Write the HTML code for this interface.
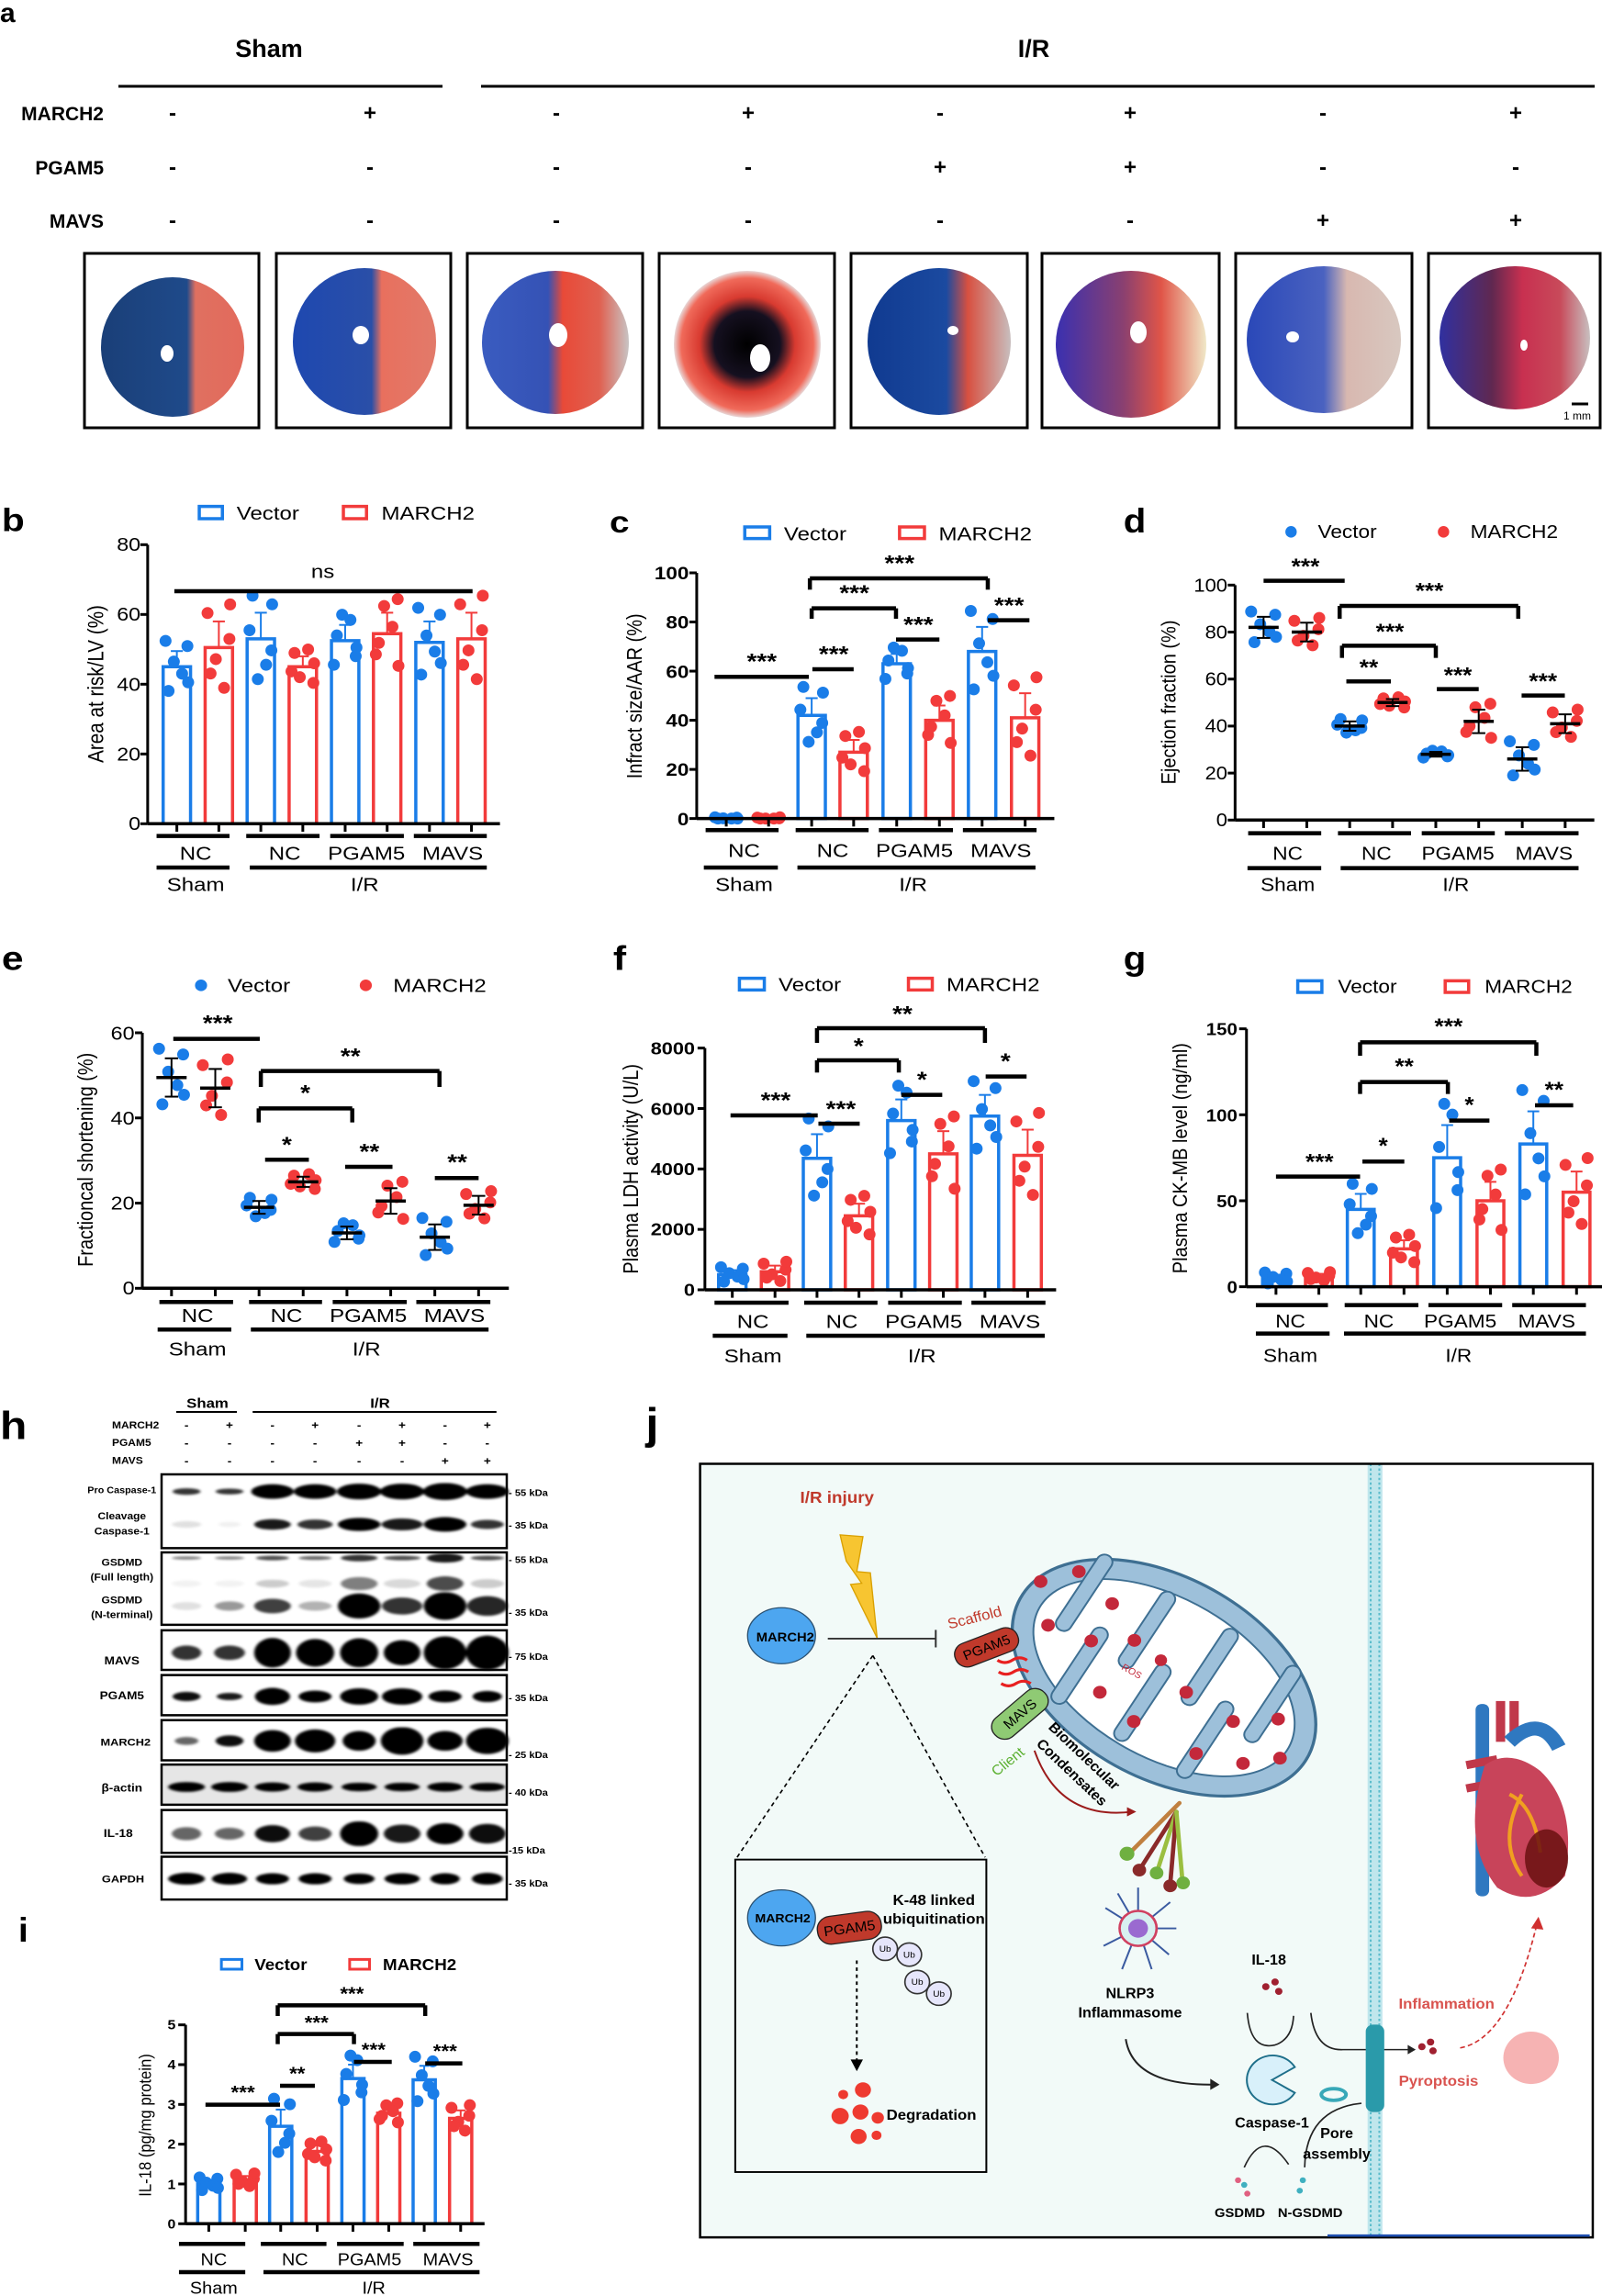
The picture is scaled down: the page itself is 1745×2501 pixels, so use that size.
<!DOCTYPE html>
<html><head><meta charset="utf-8">
<style>
html,body{margin:0;padding:0;background:#fff;}
svg{display:block;font-family:"Liberation Sans",Arial,sans-serif;}
.b{font-weight:bold;}
.st{font-size:72px;font-weight:bold;}
</style></head>
<body>
<svg id="S" xmlns="http://www.w3.org/2000/svg" width="1745" height="2501" viewBox="0 0 1745 2501">
<defs>
<linearGradient id="h1" x1="0" x2="1"><stop offset="0" stop-color="#1a3f78"/><stop offset="0.6" stop-color="#1f4a8a"/><stop offset="0.66" stop-color="#e07060"/><stop offset="1" stop-color="#e26a5c"/></linearGradient>
<linearGradient id="h2" x1="0" x2="1"><stop offset="0" stop-color="#1e48b0"/><stop offset="0.55" stop-color="#2a4fa8"/><stop offset="0.62" stop-color="#e8705e"/><stop offset="1" stop-color="#e27a6a"/></linearGradient>
<linearGradient id="h3" x1="0" x2="1"><stop offset="0" stop-color="#3a5cc0"/><stop offset="0.45" stop-color="#3552b5"/><stop offset="0.55" stop-color="#e84a38"/><stop offset="0.8" stop-color="#e06050"/><stop offset="1" stop-color="#c8c4c4"/></linearGradient>
<radialGradient id="h4"><stop offset="0" stop-color="#000"/><stop offset="0.45" stop-color="#151020"/><stop offset="0.65" stop-color="#d83a30"/><stop offset="0.9" stop-color="#f06a5a"/><stop offset="1" stop-color="#e8d8d8"/></radialGradient>
<linearGradient id="h5" x1="0" x2="1"><stop offset="0" stop-color="#103a90"/><stop offset="0.55" stop-color="#1b4aa0"/><stop offset="0.7" stop-color="#d85040"/><stop offset="1" stop-color="#c8bebe"/></linearGradient>
<linearGradient id="h6" x1="0" x2="1"><stop offset="0" stop-color="#3a30b0"/><stop offset="0.45" stop-color="#8a4070"/><stop offset="0.7" stop-color="#e05548"/><stop offset="1" stop-color="#f0e8c8"/></linearGradient>
<linearGradient id="h7" x1="0" x2="1"><stop offset="0" stop-color="#2a48b8"/><stop offset="0.5" stop-color="#4a62c0"/><stop offset="0.65" stop-color="#d8b8b0"/><stop offset="1" stop-color="#d8c8c0"/></linearGradient>
<linearGradient id="h8" x1="0" x2="1"><stop offset="0" stop-color="#3030a0"/><stop offset="0.35" stop-color="#602850"/><stop offset="0.55" stop-color="#c83050"/><stop offset="0.8" stop-color="#c84a5a"/><stop offset="1" stop-color="#c8c0c0"/></linearGradient>
<filter id="bl" x="-20%" y="-50%" width="140%" height="200%"><feGaussianBlur stdDeviation="4"/></filter>
</defs>

<!-- ===== Panel a ===== -->
<text x="0" y="24" font-size="30" class="b">a</text>
<text x="293" y="62" font-size="27" class="b" text-anchor="middle">Sham</text>
<text x="1126" y="62" font-size="27" class="b" text-anchor="middle">I/R</text>
<line x1="129" y1="94" x2="482" y2="94" stroke="#000" stroke-width="3"/>
<line x1="524" y1="94" x2="1737" y2="94" stroke="#000" stroke-width="3"/>
<g font-size="21" class="b" text-anchor="end">
<text x="113" y="131">MARCH2</text><text x="113" y="190">PGAM5</text><text x="113" y="248">MAVS</text>
</g>
<g font-size="24" class="b" text-anchor="middle">
<text x="188" y="131">-</text><text x="403" y="131">+</text><text x="606" y="131">-</text><text x="815" y="131">+</text><text x="1024" y="131">-</text><text x="1231" y="131">+</text><text x="1441" y="131">-</text><text x="1651" y="131">+</text>
<text x="188" y="190">-</text><text x="403" y="190">-</text><text x="606" y="190">-</text><text x="815" y="190">-</text><text x="1024" y="190">+</text><text x="1231" y="190">+</text><text x="1441" y="190">-</text><text x="1651" y="190">-</text>
<text x="188" y="248">-</text><text x="403" y="248">-</text><text x="606" y="248">-</text><text x="815" y="248">-</text><text x="1024" y="248">-</text><text x="1231" y="248">-</text><text x="1441" y="248">+</text><text x="1651" y="248">+</text>
</g>
<g stroke="#000" stroke-width="3" fill="#fff">
<rect x="92" y="276" width="190" height="190"/><rect x="301" y="276" width="190" height="190"/><rect x="509" y="276" width="191" height="190"/><rect x="718" y="276" width="191" height="190"/><rect x="927" y="276" width="192" height="190"/><rect x="1135" y="276" width="193" height="190"/><rect x="1346" y="276" width="192" height="190"/><rect x="1556" y="276" width="187" height="190"/>
</g>
<ellipse cx="188" cy="378" rx="78" ry="76" fill="url(#h1)"/>
<ellipse cx="397" cy="372" rx="78" ry="80" fill="url(#h2)"/>
<ellipse cx="605" cy="373" rx="80" ry="78" fill="url(#h3)"/>
<ellipse cx="814" cy="375" rx="80" ry="80" fill="url(#h4)"/>
<ellipse cx="1023" cy="372" rx="78" ry="80" fill="url(#h5)"/>
<ellipse cx="1232" cy="375" rx="82" ry="80" fill="url(#h6)"/>
<ellipse cx="1442" cy="370" rx="84" ry="80" fill="url(#h7)"/>
<ellipse cx="1650" cy="368" rx="82" ry="78" fill="url(#h8)"/>
<g fill="#fff"><ellipse cx="182" cy="385" rx="7" ry="9"/><ellipse cx="393" cy="365" rx="9" ry="10"/><ellipse cx="608" cy="365" rx="10" ry="13"/><ellipse cx="828" cy="390" rx="11" ry="15"/><ellipse cx="1038" cy="360" rx="6" ry="5"/><ellipse cx="1240" cy="362" rx="9" ry="12"/><ellipse cx="1408" cy="367" rx="7" ry="6"/><ellipse cx="1660" cy="376" rx="4" ry="6"/></g>
<line x1="1712" y1="440" x2="1730" y2="440" stroke="#000" stroke-width="3"/>
<text x="1718" y="457" font-size="12" text-anchor="middle">1 mm</text>

<!-- ===== Panel b ===== -->
<g id="pb" transform="translate(0,500) scale(0.3876,0.3333)">
<text x="5" y="235" font-size="105" class="b">b</text>
<rect x="560" y="155" width="65" height="40" fill="none" stroke="#1a7de8" stroke-width="3.5" vector-effect="non-scaling-stroke"/>
<text x="665" y="198" font-size="62">Vector</text>
<rect x="965" y="155" width="65" height="40" fill="none" stroke="#f23b3b" stroke-width="3.5" vector-effect="non-scaling-stroke"/>
<text x="1072" y="198" font-size="62">MARCH2</text>
<g font-size="60" text-anchor="end"><text x="395" y="300">80</text><text x="395" y="528">60</text><text x="395" y="757">40</text><text x="395" y="985">20</text><text x="395" y="1212">0</text></g>
<text transform="translate(290,735) rotate(-90)" font-size="62" text-anchor="middle">Area at risk/LV (%)</text>
<text x="907" y="388" font-size="62" text-anchor="middle">ns</text>
<g font-size="62" text-anchor="middle"><text x="550" y="1310">NC</text><text x="800" y="1310">NC</text><text x="1030" y="1310">PGAM5</text><text x="1272" y="1310">MAVS</text><text x="550" y="1412">Sham</text><text x="1025" y="1412">I/R</text></g>
</g>

<!-- ===== Panel c ===== -->
<g id="pc" transform="translate(600,520) scale(0.3876,0.3333)">
<text x="165" y="180" font-size="100" class="b">c</text>
<rect x="545" y="162" width="70" height="38" fill="none" stroke="#1a7de8" stroke-width="3.5" vector-effect="non-scaling-stroke"/>
<text x="655" y="205" font-size="62">Vector</text>
<rect x="980" y="162" width="70" height="38" fill="none" stroke="#f23b3b" stroke-width="3.5" vector-effect="non-scaling-stroke"/>
<text x="1090" y="205" font-size="62">MARCH2</text>
<g font-size="58" class="b" text-anchor="end"><text x="388" y="333">100</text><text x="388" y="493">80</text><text x="388" y="655">60</text><text x="388" y="815">40</text><text x="388" y="975">20</text><text x="388" y="1137">0</text></g>
<text transform="translate(255,715) rotate(-90)" font-size="60" text-anchor="middle">Infract size/AAR (%)</text>
<g class="st" text-anchor="middle"><text x="593" y="625">***</text><text x="795" y="602">***</text><text x="853" y="402">***</text><text x="1033" y="505">***</text><text x="1288" y="442">***</text><text x="980" y="305">***</text></g>
<g font-size="62" text-anchor="middle"><text x="543" y="1240">NC</text><text x="792" y="1240">NC</text><text x="1022" y="1240">PGAM5</text><text x="1265" y="1240">MAVS</text><text x="543" y="1352">Sham</text><text x="1018" y="1352">I/R</text></g>
</g>

<!-- ===== Panel d ===== -->
<g id="pd" transform="translate(1180,520) scale(0.365,0.3333)">
<text x="120" y="180" font-size="110" class="b">d</text>
<ellipse cx="620" cy="178" rx="17" ry="19" fill="#1a7de8"/>
<text x="700" y="198" font-size="62">Vector</text>
<ellipse cx="1075" cy="178" rx="17" ry="19" fill="#f23b3b"/>
<text x="1155" y="198" font-size="62">MARCH2</text>
<g font-size="60" text-anchor="end"><text x="430" y="373">100</text><text x="430" y="527">80</text><text x="430" y="680">60</text><text x="430" y="833">40</text><text x="430" y="987">20</text><text x="430" y="1140">0</text></g>
<text transform="translate(275,735) rotate(-90)" font-size="60" text-anchor="middle">Ejection fraction (%)</text>
<g class="st" text-anchor="middle"><text x="663" y="315">***</text><text x="1033" y="395">***</text><text x="915" y="528">***</text><text x="852" y="645">**</text><text x="1118" y="670">***</text><text x="1372" y="690">***</text></g>
<g font-size="62" text-anchor="middle"><text x="610" y="1250">NC</text><text x="875" y="1250">NC</text><text x="1118" y="1250">PGAM5</text><text x="1375" y="1250">MAVS</text><text x="610" y="1352">Sham</text><text x="1112" y="1352">I/R</text></g>
</g>

<!-- ===== Panel e ===== -->
<g id="pe" transform="translate(0,1020) scale(0.3876,0.3333)">
<text x="5" y="110" font-size="110" class="b">e</text>
<ellipse cx="565" cy="160" rx="17" ry="19" fill="#1a7de8"/>
<text x="640" y="182" font-size="62">Vector</text>
<ellipse cx="1028" cy="160" rx="17" ry="19" fill="#f23b3b"/>
<text x="1105" y="182" font-size="62">MARCH2</text>
<g font-size="60" text-anchor="end"><text x="378" y="337">60</text><text x="378" y="615">40</text><text x="378" y="892">20</text><text x="378" y="1170">0</text></g>
<text transform="translate(260,730) rotate(-90)" font-size="60" text-anchor="middle">Fractioncal shortening (%)</text>
<g class="st" text-anchor="middle"><text x="612" y="308">***</text><text x="985" y="415">**</text><text x="858" y="535">*</text><text x="806" y="705">*</text><text x="1038" y="728">**</text><text x="1285" y="762">**</text></g>
<g font-size="62" text-anchor="middle"><text x="555" y="1260">NC</text><text x="805" y="1260">NC</text><text x="1035" y="1260">PGAM5</text><text x="1277" y="1260">MAVS</text><text x="555" y="1370">Sham</text><text x="1030" y="1370">I/R</text></g>
</g>

<!-- ===== Panel f ===== -->
<g id="pf" transform="translate(600,1020) scale(0.3876,0.3333)">
<text x="175" y="110" font-size="110" class="b">f</text>
<rect x="530" y="137" width="70" height="38" fill="none" stroke="#1a7de8" stroke-width="3.5" vector-effect="non-scaling-stroke"/>
<text x="640" y="178" font-size="62">Vector</text>
<rect x="1005" y="137" width="67" height="38" fill="none" stroke="#f23b3b" stroke-width="3.5" vector-effect="non-scaling-stroke"/>
<text x="1112" y="178" font-size="62">MARCH2</text>
<g font-size="56" class="b" text-anchor="end"><text x="405" y="385">8000</text><text x="405" y="583">6000</text><text x="405" y="780">4000</text><text x="405" y="977">2000</text><text x="405" y="1175">0</text></g>
<text transform="translate(245,760) rotate(-90)" font-size="60" text-anchor="middle">Plasma LDH activity (U/L)</text>
<g class="st" text-anchor="middle"><text x="632" y="560">***</text><text x="815" y="588">***</text><text x="865" y="382">*</text><text x="988" y="278">**</text><text x="1043" y="492">*</text><text x="1278" y="432">*</text></g>
<g font-size="62" text-anchor="middle"><text x="568" y="1280">NC</text><text x="818" y="1280">NC</text><text x="1048" y="1280">PGAM5</text><text x="1290" y="1280">MAVS</text><text x="568" y="1392">Sham</text><text x="1043" y="1392">I/R</text></g>
</g>

<!-- ===== Panel g ===== -->
<g id="pg" transform="translate(1180,1020) scale(0.365,0.3333)">
<text x="120" y="110" font-size="110" class="b">g</text>
<rect x="640" y="145" width="72" height="38" fill="none" stroke="#1a7de8" stroke-width="3.5" vector-effect="non-scaling-stroke"/>
<text x="760" y="185" font-size="62">Vector</text>
<rect x="1080" y="145" width="70" height="38" fill="none" stroke="#f23b3b" stroke-width="3.5" vector-effect="non-scaling-stroke"/>
<text x="1198" y="185" font-size="62">MARCH2</text>
<g font-size="56" class="b" text-anchor="end"><text x="460" y="322">150</text><text x="460" y="605">100</text><text x="460" y="885">50</text><text x="460" y="1165">0</text></g>
<text transform="translate(310,725) rotate(-90)" font-size="60" text-anchor="middle">Plasma CK-MB level (ng/ml)</text>
<g class="st" text-anchor="middle"><text x="705" y="760">***</text><text x="895" y="708">*</text><text x="958" y="448">**</text><text x="1090" y="318">***</text><text x="1152" y="575">*</text><text x="1405" y="525">**</text></g>
<g font-size="62" text-anchor="middle"><text x="618" y="1278">NC</text><text x="882" y="1278">NC</text><text x="1125" y="1278">PGAM5</text><text x="1383" y="1278">MAVS</text><text x="618" y="1390">Sham</text><text x="1120" y="1390">I/R</text></g>
</g>

<!-- ===== Panel i ===== -->
<g id="pi" transform="translate(0,2070) scale(0.361,0.3333)">
<text x="55" y="135" font-size="110" class="b">i</text>
<rect x="668" y="193" width="62" height="32" fill="none" stroke="#1a7de8" stroke-width="3" vector-effect="non-scaling-stroke"/>
<text x="768" y="228" font-size="52" class="b">Vector</text>
<rect x="1055" y="193" width="60" height="32" fill="none" stroke="#f23b3b" stroke-width="3" vector-effect="non-scaling-stroke"/>
<text x="1155" y="228" font-size="52" class="b">MARCH2</text>
<g font-size="44" class="b" text-anchor="end"><text x="530" y="422">5</text><text x="530" y="552">4</text><text x="530" y="682">3</text><text x="530" y="812">2</text><text x="530" y="943">1</text><text x="530" y="1073">0</text></g>
<text transform="translate(455,735) rotate(-90)" font-size="50" text-anchor="middle">IL-18 (pg/mg protein)</text>
<g font-size="62" class="b" text-anchor="middle"><text x="733" y="648">***</text><text x="897" y="586">**</text><text x="955" y="420">***</text><text x="1062" y="326">***</text><text x="1127" y="508">***</text><text x="1343" y="513">***</text></g>
<g font-size="55" text-anchor="middle"><text x="645" y="1192">NC</text><text x="890" y="1192">NC</text><text x="1115" y="1192">PGAM5</text><text x="1352" y="1192">MAVS</text><text x="645" y="1285">Sham</text><text x="1128" y="1285">I/R</text></g>
</g>

<!-- ===== Panel h ===== -->
<g id="ph" transform="translate(0,1510) scale(0.4,0.3584)">
<text x="0" y="160" font-size="120" class="b">h</text>
<text x="565" y="66" font-size="42" class="b" text-anchor="middle">Sham</text>
<text x="1035" y="66" font-size="42" class="b" text-anchor="middle">I/R</text>
<line x1="480" y1="78" x2="645" y2="78" stroke="#000" stroke-width="2" vector-effect="non-scaling-stroke"/>
<line x1="688" y1="78" x2="1352" y2="78" stroke="#000" stroke-width="2" vector-effect="non-scaling-stroke"/>
<g font-size="30" class="b"><text x="305" y="128">MARCH2</text><text x="305" y="182">PGAM5</text><text x="305" y="236">MAVS</text></g>
<g font-size="34" class="b" text-anchor="middle">
<text x="508" y="130">-</text><text x="625" y="130">+</text><text x="742" y="130">-</text><text x="858" y="130">+</text><text x="978" y="130">-</text><text x="1095" y="130">+</text><text x="1212" y="130">-</text><text x="1327" y="130">+</text>
<text x="508" y="184">-</text><text x="625" y="184">-</text><text x="742" y="184">-</text><text x="858" y="184">-</text><text x="978" y="184">+</text><text x="1095" y="184">+</text><text x="1212" y="184">-</text><text x="1327" y="184">-</text>
<text x="508" y="238">-</text><text x="625" y="238">-</text><text x="742" y="238">-</text><text x="858" y="238">-</text><text x="978" y="238">-</text><text x="1095" y="238">-</text><text x="1212" y="238">+</text><text x="1327" y="238">+</text>
</g>
<rect x="440" y="1150" width="940" height="122" fill="#e6e6e6"/>
<g id="bands" filter="url(#bl)"></g>
<g fill="none" stroke="#000" stroke-width="2.5">
<rect x="440" y="268" width="940" height="224" vector-effect="non-scaling-stroke"/><rect x="440" y="505" width="940" height="220" vector-effect="non-scaling-stroke"/><rect x="440" y="742" width="940" height="120" vector-effect="non-scaling-stroke"/><rect x="440" y="878" width="940" height="122" vector-effect="non-scaling-stroke"/><rect x="440" y="1015" width="940" height="122" vector-effect="non-scaling-stroke"/><rect x="440" y="1150" width="940" height="122" vector-effect="non-scaling-stroke"/><rect x="440" y="1288" width="940" height="130" vector-effect="non-scaling-stroke"/><rect x="440" y="1430" width="940" height="130" vector-effect="non-scaling-stroke"/>
</g>
<g font-size="30" class="b" text-anchor="middle">
<text x="332" y="325" font-size="27">Pro Caspase-1</text><text x="332" y="405">Cleavage</text><text x="332" y="450">Caspase-1</text>
<text x="332" y="545">GSDMD</text><text x="332" y="590">(Full length)</text><text x="332" y="660">GSDMD</text><text x="332" y="705">(N-terminal)</text>
<text x="332" y="845" font-size="34">MAVS</text><text x="332" y="952" font-size="34">PGAM5</text><text x="342" y="1093" font-size="32">MARCH2</text><text x="332" y="1232" font-size="34">β-actin</text><text x="322" y="1370" font-size="34">IL-18</text><text x="335" y="1508" font-size="32">GAPDH</text>
</g>
<g font-size="28" class="b">
<text x="1385" y="333">- 55 kDa</text><text x="1385" y="433">- 35 kDa</text><text x="1385" y="537">- 55 kDa</text><text x="1385" y="697">- 35 kDa</text><text x="1385" y="832">- 75 kDa</text><text x="1385" y="957">- 35 kDa</text><text x="1385" y="1130">- 25 kDa</text><text x="1385" y="1245">- 40 kDa</text><text x="1385" y="1420">-15 kDa</text><text x="1385" y="1520">- 35 kDa</text>
</g>
</g>

<!-- ===== Panel j ===== -->
<g id="pj" transform="translate(690,1510) scale(0.672,0.635)">
<text x="20" y="90" font-size="75" class="b">j</text>
<rect x="108" y="133" width="1447" height="1327" fill="#f2faf8"/>
<rect x="1212" y="133" width="343" height="1327" fill="#fff"/>
<rect x="1190" y="133" width="24" height="1327" fill="#bfe6ec"/>
<line x1="1195" y1="133" x2="1195" y2="1460" stroke="#5bbccc" stroke-width="3" stroke-dasharray="4 4"/>
<line x1="1209" y1="133" x2="1209" y2="1460" stroke="#5bbccc" stroke-width="3" stroke-dasharray="4 4"/>
<rect x="108" y="133" width="1447" height="1327" fill="none" stroke="#000" stroke-width="2.5" vector-effect="non-scaling-stroke"/>
<line x1="1125" y1="1457" x2="1550" y2="1457" stroke="#1f4fb0" stroke-width="4"/>
<text x="330" y="200" font-size="28" fill="#c0392b" text-anchor="middle" class="b">I/R injury</text>
<polygon points="335,255 372,258 362,318 384,320 395,432 352,340 370,338 345,300" fill="#f7c531" stroke="#d9a000" stroke-width="2"/>
<ellipse cx="240" cy="428" rx="55" ry="48" fill="#4da6f0" stroke="#2a5070" stroke-width="2"/>
<text x="246" y="438" font-size="22" class="b" text-anchor="middle">MARCH2</text>
<line x1="315" y1="433" x2="490" y2="433" stroke="#333" stroke-width="3"/>
<line x1="490" y1="418" x2="490" y2="448" stroke="#333" stroke-width="3"/>
<line x1="388" y1="462" x2="168" y2="808" stroke="#000" stroke-width="2.5" stroke-dasharray="7 6"/>
<line x1="388" y1="462" x2="570" y2="808" stroke="#000" stroke-width="2.5" stroke-dasharray="7 6"/>
<rect x="165" y="812" width="407" height="536" fill="none" stroke="#000" stroke-width="3"/>
<ellipse cx="240" cy="912" rx="55" ry="48" fill="#4da6f0" stroke="#2a5070" stroke-width="2"/>
<text x="242" y="920" font-size="21" class="b" text-anchor="middle">MARCH2</text>
<rect x="298" y="905" width="104" height="48" rx="22" fill="#c0392b" stroke="#222" stroke-width="2" transform="rotate(-8 350 929)"/>
<text x="350" y="938" font-size="24" text-anchor="middle" transform="rotate(-8 350 929)">PGAM5</text>
<text x="487" y="890" font-size="25" class="b" text-anchor="middle">K-48 linked</text>
<text x="487" y="922" font-size="25" class="b" text-anchor="middle">ubiquitination</text>
<g fill="#e6e6fb" stroke="#333" stroke-width="2.5"><circle cx="408" cy="965" r="20"/><circle cx="447" cy="975" r="20"/><circle cx="460" cy="1022" r="20"/><circle cx="495" cy="1042" r="20"/></g>
<g font-size="15" text-anchor="middle"><text x="408" y="970">Ub</text><text x="447" y="980">Ub</text><text x="460" y="1027">Ub</text><text x="495" y="1047">Ub</text></g>
<line x1="362" y1="985" x2="362" y2="1160" stroke="#000" stroke-width="3" stroke-dasharray="6 6"/>
<polygon points="352,1155 372,1155 362,1175" fill="#000"/>
<g fill="#ee3a30"><circle cx="372" cy="1207" r="13"/><circle cx="340" cy="1215" r="8"/><circle cx="335" cy="1252" r="14"/><circle cx="368" cy="1245" r="13"/><circle cx="396" cy="1255" r="10"/><circle cx="365" cy="1287" r="13"/><circle cx="394" cy="1285" r="8"/></g>
<text x="483" y="1258" font-size="25" class="b" text-anchor="middle">Degradation</text>
<g transform="rotate(32 860 500)">
<ellipse cx="860" cy="500" rx="270" ry="170" fill="#9dc0da" stroke="#3e6f92" stroke-width="5"/>
<ellipse cx="860" cy="500" rx="235" ry="135" fill="#fff" stroke="#3e6f92" stroke-width="3"/>
<g fill="#9dc0da" stroke="#3e6f92" stroke-width="3">
<rect x="660" y="370" width="26" height="150" rx="13"/><rect x="720" y="480" width="26" height="150" rx="13"/><rect x="780" y="370" width="26" height="150" rx="13"/><rect x="840" y="480" width="26" height="150" rx="13"/><rect x="900" y="370" width="26" height="150" rx="13"/><rect x="960" y="480" width="26" height="150" rx="13"/><rect x="1020" y="370" width="26" height="150" rx="13"/>
</g></g>
<g fill="#c3283a"><circle cx="660" cy="335" r="11"/><circle cx="722" cy="318" r="11"/><circle cx="776" cy="373" r="11"/><circle cx="672" cy="410" r="11"/><circle cx="742" cy="437" r="11"/><circle cx="812" cy="436" r="11"/><circle cx="855" cy="470" r="10"/><circle cx="756" cy="525" r="11"/><circle cx="896" cy="525" r="11"/><circle cx="811" cy="575" r="11"/><circle cx="972" cy="575" r="11"/><circle cx="1045" cy="571" r="11"/><circle cx="912" cy="630" r="11"/><circle cx="988" cy="647" r="11"/><circle cx="1048" cy="638" r="11"/></g>
<text x="790" y="485" font-size="16" fill="#c3283a" transform="rotate(30 790 485)">ROS</text>
<text x="555" y="405" font-size="25" fill="#c0392b" transform="rotate(-15 555 405)" text-anchor="middle">Scaffold</text>
<g transform="rotate(-22 572 447)"><rect x="518" y="427" width="108" height="42" rx="20" fill="#c0392b" stroke="#222" stroke-width="2"/><text x="572" y="456" font-size="23" text-anchor="middle">PGAM5</text></g>
<path d="M590,470 q12,8 24,0 t24,0 M592,490 q12,8 24,0 t24,0 M596,510 q12,8 24,0 t24,0" fill="none" stroke="#e82020" stroke-width="5"/>
<g transform="rotate(-42 625 562)"><rect x="572" y="542" width="108" height="42" rx="20" fill="#8fca74" stroke="#222" stroke-width="2"/><text x="626" y="571" font-size="23" text-anchor="middle">MAVS</text></g>
<text x="612" y="650" font-size="24" fill="#5bb030" transform="rotate(-40 612 650)" text-anchor="middle">Client</text>
<text x="725" y="640" font-size="24" class="b" transform="rotate(45 725 640)" text-anchor="middle">Biomolecular</text>
<text x="705" y="668" font-size="24" class="b" transform="rotate(45 705 668)" text-anchor="middle">Condensates</text>
<path d="M650,625 Q690,745 808,730" fill="none" stroke="#9b1b1b" stroke-width="3"/>
<polygon points="800,722 815,730 800,738" fill="#9b1b1b"/>
<g stroke-width="7" stroke-linecap="round"><line x1="885" y1="715" x2="805" y2="800" stroke="#c08040"/><line x1="880" y1="730" x2="820" y2="830" stroke="#8a2a2a"/><line x1="880" y1="730" x2="848" y2="835" stroke="#9bbf40"/><line x1="880" y1="730" x2="870" y2="855" stroke="#8a2a2a"/><line x1="880" y1="730" x2="890" y2="850" stroke="#9bbf40"/></g>
<g fill="#6fb040"><circle cx="800" cy="802" r="12"/><circle cx="848" cy="835" r="11"/><circle cx="891" cy="852" r="11"/></g><g fill="#8a2a2a"><circle cx="820" cy="830" r="11"/><circle cx="870" cy="857" r="11"/></g>
<g stroke="#3a5aa0" stroke-width="3"><line x1="818" y1="930" x2="818" y2="860"/><line x1="818" y1="930" x2="870" y2="885"/><line x1="818" y1="930" x2="880" y2="930"/><line x1="818" y1="930" x2="868" y2="975"/><line x1="818" y1="930" x2="840" y2="1000"/><line x1="818" y1="930" x2="792" y2="1000"/><line x1="818" y1="930" x2="762" y2="960"/><line x1="818" y1="930" x2="765" y2="895"/><line x1="818" y1="930" x2="785" y2="870"/></g>
<circle cx="818" cy="930" r="30" fill="#d8f0f0" stroke="#d04060" stroke-width="4"/><circle cx="818" cy="930" r="16" fill="#9a6ad0"/>
<text x="805" y="1050" font-size="24" class="b" text-anchor="middle">NLRP3</text>
<text x="805" y="1083" font-size="24" class="b" text-anchor="middle">Inflammasome</text>
<path d="M798,1120 Q810,1200 940,1198" fill="none" stroke="#222" stroke-width="3"/><polygon points="935,1188 950,1198 935,1207" fill="#222"/>
<text x="1030" y="992" font-size="24" class="b" text-anchor="middle">IL-18</text>
<g fill="#a02030"><circle cx="1025" cy="1030" r="6"/><circle cx="1040" cy="1022" r="6"/><circle cx="1046" cy="1038" r="6"/></g>
<path d="M995,1075 Q1000,1140 1040,1130 Q1068,1120 1070,1080" fill="none" stroke="#222" stroke-width="2.5"/>
<path d="M1098,1075 Q1105,1140 1150,1138 L1260,1138" fill="none" stroke="#222" stroke-width="2.5"/><polygon points="1255,1130 1268,1138 1255,1146" fill="#222"/>
<path d="M1035,1190 L1072,1168 A42,42 0 1,0 1072,1212 Z" fill="#d8f0fa" stroke="#1e6f8a" stroke-width="3"/>
<text x="1035" y="1272" font-size="24" class="b" text-anchor="middle">Caspase-1</text>
<ellipse cx="1135" cy="1215" rx="20" ry="10" fill="none" stroke="#38a8b8" stroke-width="6"/>
<path d="M1088,1340 Q1090,1240 1180,1230" fill="none" stroke="#222" stroke-width="2.5"/>
<text x="1140" y="1290" font-size="24" class="b" text-anchor="middle">Pore</text>
<text x="1140" y="1325" font-size="24" class="b" text-anchor="middle">assembly</text>
<path d="M990,1340 Q1020,1270 1062,1335" fill="none" stroke="#222" stroke-width="2.5"/>
<text x="983" y="1425" font-size="22" class="b" text-anchor="middle">GSDMD</text>
<text x="1097" y="1425" font-size="22" class="b" text-anchor="middle">N-GSDMD</text>
<g fill="#e06080"><circle cx="980" cy="1362" r="5"/><circle cx="995" cy="1385" r="5"/></g><g fill="#40b0c0"><circle cx="990" cy="1370" r="5"/><circle cx="1085" cy="1362" r="5"/><circle cx="1080" cy="1380" r="5"/></g>
<rect x="1187" y="1095" width="30" height="150" rx="12" fill="#2a9aaa"/>
<text x="1318" y="1068" font-size="25" fill="#d9534f" class="b" text-anchor="middle">Inflammation</text>
<text x="1305" y="1200" font-size="25" fill="#d9534f" class="b" text-anchor="middle">Pyroptosis</text>
<g fill="#a02030"><circle cx="1278" cy="1133" r="6"/><circle cx="1292" cy="1125" r="6"/><circle cx="1296" cy="1140" r="6"/></g>
<path d="M1340,1135 Q1420,1120 1465,920" fill="none" stroke="#d03030" stroke-width="2.5" stroke-dasharray="8 5"/><polygon points="1455,930 1467,910 1475,932" fill="#d03030"/>
<circle cx="1455" cy="1152" r="45" fill="#f4a0a0" opacity="0.8"/>
<g>
<rect x="1365" y="545" width="22" height="330" rx="10" fill="#2f78c0"/>
<rect x="1398" y="540" width="15" height="70" fill="#c0384a"/><rect x="1420" y="540" width="15" height="70" fill="#c0384a"/>
<path d="M1420,610 Q1470,560 1500,620" fill="none" stroke="#2f78c0" stroke-width="24"/>
<path d="M1350,650 L1400,640 M1350,690 L1400,680" stroke="#c0384a" stroke-width="14"/>
<path d="M1380,650 Q1340,780 1400,860 Q1460,900 1510,840 Q1530,720 1470,660 Q1420,620 1380,650 Z" fill="#c8445a"/>
<path d="M1420,700 Q1460,720 1470,800 M1440,700 Q1400,780 1440,840" fill="none" stroke="#f0a020" stroke-width="6"/>
<ellipse cx="1480" cy="810" rx="35" ry="50" fill="#6a1010" opacity="0.85"/>
</g>
</g>

<script>
(function(){
const NS='http://www.w3.org/2000/svg',B='#1a7de8',R='#f23b3b';
function el(p,t,a){const e=document.createElementNS(NS,t);for(const k in a)e.setAttribute(k,a[k]);p.appendChild(e);return e;}
function ln(p,x1,y1,x2,y2,c,w){el(p,'line',{x1,y1,x2,y2,stroke:c||'#000','stroke-width':w||3.5,'vector-effect':'non-scaling-stroke'});}
function chart(id,c){
 const g=document.getElementById(id);
 const Y=v=>c.y0-v/c.vmax*(c.y0-c.yt);
 const dx=[-0.75,0.7,-0.2,0.35,-0.55,0.75],k=[1.5,1.2,0.3,-0.4,-1.4,-0.9];
 c.cx.forEach((x,i)=>{
  const col=i%2?R:B,m=c.m[i],s=c.sd[i];
  if(c.type=='bar'){
   el(g,'rect',{x:x-c.bw/2,y:Y(m),width:c.bw,height:Math.max(0,c.y0-Y(m)),fill:'#fff',stroke:col,'stroke-width':3.5,'vector-effect':'non-scaling-stroke'});
   ln(g,x,Y(m),x,Y(m+s),col,2);ln(g,x-c.bw*0.22,Y(m+s),x+c.bw*0.22,Y(m+s),col,2);
  }
  for(let j=0;j<6;j++){
   const kk=k[(j+i)%6];
   el(g,'ellipse',{cx:x+dx[j]*c.bw*0.55,cy:Y(Math.max(0,m+kk*s*(c.type=='bar'?1.1:1.0))),rx:6.5*c.sx,ry:19.5,fill:col});
  }
  if(c.type=='dot'){
   ln(g,x-c.bw*0.5,Y(m),x+c.bw*0.5,Y(m),'#000',3.5);
   ln(g,x,Y(m-s),x,Y(m+s),'#000',2);ln(g,x-c.bw*0.22,Y(m+s),x+c.bw*0.22,Y(m+s),'#000',2);ln(g,x-c.bw*0.22,Y(m-s),x+c.bw*0.22,Y(m-s),'#000',2);
  }
 });
 ln(g,c.ax,c.yt,c.ax,c.y0,'#000',3);ln(g,c.ax,c.y0,c.end,c.y0,'#000',3.5);
 for(let t=0;t<=c.nt;t++){const yy=c.y0-t*(c.y0-c.yt)/c.nt;ln(g,c.ax-8*c.sx,yy,c.ax,yy,'#000',3);}
 c.cx.forEach(x=>ln(g,x,c.y0,x,c.y0+26,'#000',3));
 c.gl.forEach(a=>ln(g,a[0],a[2],a[1],a[2],'#000',4.5));
 c.sg.forEach(a=>{ln(g,a[0],a[2],a[1],a[2],'#000',4.5);if(a[3]){ln(g,a[0],a[2],a[0],a[3],'#000',4.5);ln(g,a[1],a[2],a[1],a[3],'#000',4.5);}});
}
chart('pb',{sx:2.58,ax:415,y0:1192,yt:280,vmax:80,nt:4,end:1405,bw:77,type:'bar',
 cx:[497,615,733,851,970,1088,1207,1325],m:[45,50.5,53,45,52.5,54.5,52,53],sd:[4.5,7.5,7.5,3,4.5,6,6,7.5],
 gl:[[440,645,1232],[692,898,1232],[928,1135,1232],[1163,1368,1232],[440,645,1335],[702,1368,1335]],sg:[[490,1328,432]]});
chart('pc',{sx:2.58,ax:410,y0:1115,yt:312,vmax:100,nt:5,end:1415,bw:77,type:'bar',
 cx:[493,612,733,851,972,1092,1212,1333],m:[0,0,42,27,63,40,68,41],sd:[0.3,0.3,7,5,4,6,10,10],
 gl:[[435,640,1153],[688,893,1153],[922,1130,1153],[1158,1365,1153],[430,638,1275],[693,1362,1275]],
 sg:[[460,725,652],[735,851,627],[733,970,428,462],[970,1092,530],[1228,1345,467],[728,1228,330,367]]});
chart('pd',{sx:2.74,ax:453,y0:1120,yt:352,vmax:100,nt:5,end:1525,bw:90,type:'dot',
 cx:[538,667,795,923,1052,1180,1310,1438],m:[82,80,40,50,28,42,26,41],sd:[4.5,4,2,1.5,1,5,5,4],
 gl:[[492,710,1163],[760,978,1163],[1010,1228,1163],[1258,1478,1163],[490,710,1277],[768,1478,1277]],
 sg:[[538,780,338],[765,1298,420,462],[772,1052,550,590],[785,918,667],[1055,1180,692],[1308,1437,713]]});
chart('pe',{sx:2.58,ax:400,y0:1150,yt:315,vmax:60,nt:3,end:1430,bw:85,type:'dot',
 cx:[482,605,728,852,975,1098,1222,1345],m:[49.5,47,19,25,13,20.5,12,19.5],sd:[4.5,4.5,1.5,1.2,1.5,3,3,2.2],
 gl:[[448,655,1195],[700,905,1195],[935,1143,1195],[1170,1378,1195],[443,650,1285],[705,1373,1285]],
 sg:[[487,730,335],[733,1235,440,492],[727,990,562,608],[745,868,730],[970,1103,753],[1222,1345,790]]});
chart('pf',{sx:2.58,ax:433,y0:1155,yt:365,vmax:8000,nt:4,end:1420,bw:77,type:'bar',
 cx:[510,630,748,866,985,1103,1220,1340],m:[500,600,4350,2450,5600,4500,5750,4450],sd:[150,200,800,400,700,750,700,850],
 gl:[[460,668,1197],[712,918,1197],[948,1155,1197],[1182,1390,1197],[455,665,1305],[718,1388,1305]],
 sg:[[505,750,585],[752,868,612],[748,978,405,445],[748,1220,300,348],[985,1100,518],[1222,1337,458]]});
chart('pg',{sx:2.74,ax:487,y0:1145,yt:302,vmax:150,nt:3,end:1560,bw:80,type:'bar',
 cx:[575,703,828,957,1086,1215,1343,1472],m:[5,6,45,22,75,50,83,55],sd:[2,1.5,9,5,19,11,19,12],
 gl:[[515,730,1205],[780,1000,1205],[1030,1250,1205],[1280,1500,1205],[515,735,1298],[778,1500,1298]],
 sg:[[575,826,785],[833,958,736],[826,1088,476,515],[826,1352,346,390],[1092,1212,602],[1348,1462,552]]});
chart('pi',{sx:2.77,ax:560,y0:1057,yt:407,vmax:5,nt:5,end:1462,bw:67,type:'bar',
 cx:[630,740,847,957,1065,1173,1280,1390],m:[1.0,1.1,2.45,1.82,3.65,2.78,3.62,2.65],sd:[0.1,0.1,0.42,0.15,0.35,0.15,0.35,0.2],
 gl:[[540,740,1123],[787,985,1123],[1017,1218,1123],[1247,1447,1123],[540,740,1215],[795,1447,1215]],
 sg:[[620,845,668],[845,950,606],[838,1068,437,470],[838,1283,343,378],[1068,1182,528],[1283,1395,533]]});
const bg=document.getElementById('bands');
const lanes=[508,625,742,858,978,1095,1212,1327];
const rows=[
 [320,[0.8,0.8,1,1,1,1,1,1],[10,9,22,22,24,24,26,22],[38,38,58,58,60,60,60,58]],
 [420,[0.12,0.06,0.9,0.8,1,0.9,1,0.8],[10,8,16,15,20,18,22,14],[40,30,50,48,58,56,58,45]],
 [522,[0.5,0.5,0.7,0.6,0.8,0.7,0.9,0.7],[5,5,7,6,10,7,14,7],[40,40,45,45,50,50,50,45]],
 [600,[0.05,0.05,0.2,0.1,0.5,0.15,0.7,0.2],[10,10,12,12,20,14,22,14],[40,40,45,45,50,50,50,45]],
 [668,[0.12,0.4,0.75,0.3,1,0.8,1,0.85],[12,14,22,14,38,26,42,30],[40,40,50,45,58,55,58,55]],
 [810,[0.8,0.8,1,1,1,1,1,1],[22,22,45,42,44,38,50,52],[40,42,50,52,52,50,58,58]],
 [943,[0.95,0.9,1,1,1,1,1,1],[14,11,26,18,25,25,18,17],[38,35,48,45,52,55,45,40]],
 [1078,[0.6,0.95,1,1,1,1,1,1],[12,17,33,35,30,42,30,40],[32,38,50,55,45,58,48,58]],
 [1218,[1,1,1,1,1,1,1,1],[15,15,14,14,13,13,14,13],[50,50,48,48,48,48,48,48]],
 [1360,[0.6,0.6,0.95,0.75,1,0.9,1,0.95],[20,18,26,22,38,28,32,30],[40,40,48,45,52,50,50,50]],
 [1497,[1,1,1,1,1,1,1,1],[18,18,17,17,16,17,17,18],[50,48,45,45,42,48,40,42]]];
rows.forEach(r=>lanes.forEach((x,i)=>el(bg,'ellipse',{cx:x,cy:r[0],rx:r[3][i],ry:r[2][i],fill:'#000',opacity:r[1][i]})));
})();
</script>
</svg>
</body></html>
